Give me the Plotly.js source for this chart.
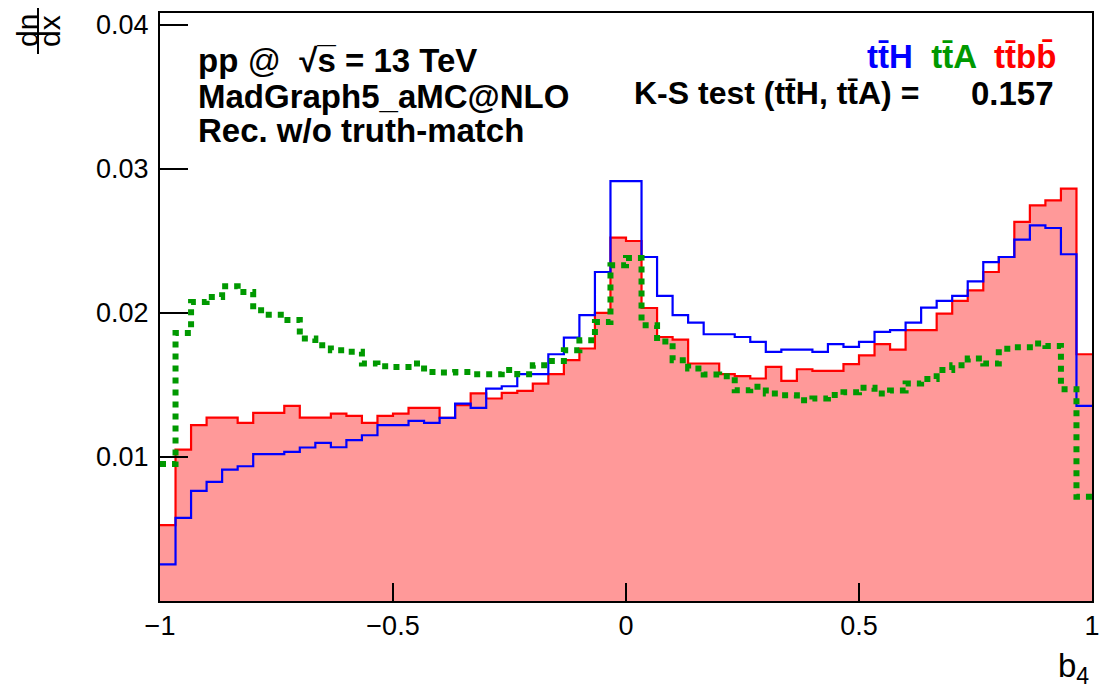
<!DOCTYPE html>
<html>
<head>
<meta charset="utf-8">
<script src="https://cdn.plot.ly/plotly-3.0.1.min.js"></script>
<style>
  html, body { margin: 0; padding: 0; background: #ffffff; }
  #plot { width: 1107px; height: 693px; }
</style>
</head>
<body>
<div id="plot"></div>
<script>
// b4 distribution: 60 bins on [-1, 1], unit-normalised densities
const xMin = -1;
const xMax = 1;
const nBins = 60;

// ttH (blue outline)
const ttH = [
  0.00254, 0.00577, 0.00764, 0.00827, 0.00912, 0.00935, 0.01019, 0.01019, 0.01035, 0.01065,
  0.01097, 0.01067, 0.01116, 0.01150, 0.01220, 0.01220, 0.01250, 0.01236, 0.01270, 0.01370,
  0.01340, 0.01474, 0.01490, 0.01574, 0.01574, 0.01712, 0.01828, 0.01983, 0.02283, 0.02914,
  0.02914, 0.02387, 0.02117, 0.01983, 0.01932, 0.01851, 0.01851, 0.01832, 0.01798, 0.01728,
  0.01744, 0.01744, 0.01728, 0.01782, 0.01763, 0.01798, 0.01867, 0.01879, 0.01932, 0.02036,
  0.02082, 0.02117, 0.02218, 0.02352, 0.02387, 0.02508, 0.02607, 0.02588, 0.02406, 0.01354
];

// ttA (green dotted)
const ttA = [
  0.00950, 0.01860, 0.02075, 0.02110, 0.02184, 0.02144, 0.02017, 0.01987, 0.01950, 0.01821,
  0.01775, 0.01740, 0.01730, 0.01648, 0.01629, 0.01624, 0.01648, 0.01589, 0.01585, 0.01589,
  0.01574, 0.01574, 0.01602, 0.01574, 0.01636, 0.01666, 0.01740, 0.01809, 0.01936, 0.02330,
  0.02380, 0.01913, 0.01800, 0.01671, 0.01613, 0.01572, 0.01560, 0.01463, 0.01486, 0.01440,
  0.01428, 0.01393, 0.01405, 0.01430, 0.01448, 0.01480, 0.01440, 0.01460, 0.01509, 0.01540,
  0.01602, 0.01636, 0.01682, 0.01648, 0.01750, 0.01760, 0.01786, 0.01770, 0.01470, 0.00723
];

// ttbb (red, filled)
const ttbb = [
  0.00526, 0.01051, 0.01220, 0.01273, 0.01273, 0.01236, 0.01305, 0.01305, 0.01354, 0.01273,
  0.01273, 0.01300, 0.01284, 0.01236, 0.01284, 0.01300, 0.01340, 0.01340, 0.01270, 0.01359,
  0.01440, 0.01405, 0.01444, 0.01458, 0.01509, 0.01574, 0.01671, 0.01752, 0.01999, 0.02521,
  0.02498, 0.02033, 0.01832, 0.01814, 0.01648, 0.01648, 0.01574, 0.01560, 0.01544, 0.01624,
  0.01527, 0.01608, 0.01597, 0.01597, 0.01643, 0.01705, 0.01782, 0.01744, 0.01879, 0.01879,
  0.01994, 0.02082, 0.02156, 0.02283, 0.02387, 0.02630, 0.02745, 0.02780, 0.02861, 0.01712
];

const xTickVals = [-1, -0.5, 0, 0.5, 1];
const xTickLabels = ['\u22121', '\u22120.5', '0', '0.5', '1'];
const yTickVals = [0.01, 0.02, 0.03, 0.04];
const yTickLabels = ['0.01', '0.02', '0.03', '0.04'];
const ksValue = '0.157';

// bin edges and step outlines ('hv' draws each bin as a flat top)
const edges = [];
for (let i = 0; i <= nBins; i++) edges.push(xMin + (xMax - xMin) * i / nBins);
const stepY = v => v.concat([v[v.length - 1]]);

const FONT = 'Liberation Sans, Arial, Helvetica, sans-serif';
const GREEN = '#009900';

const traces = [
  {
    x: edges, y: stepY(ttbb), type: 'scatter', mode: 'lines',
    line: { shape: 'hv', color: '#ff0000', width: 2.2 },
    fill: 'tozeroy', fillcolor: 'rgba(255,0,0,0.4)',
    hoverinfo: 'skip'
  },
  {
    x: edges, y: stepY(ttH), type: 'scatter', mode: 'lines',
    line: { shape: 'hv', color: '#0000ff', width: 2.2 },
    hoverinfo: 'skip'
  },
  {
    x: edges, y: stepY(ttA), type: 'scatter', mode: 'lines',
    line: { shape: 'hv', color: GREEN, width: 6, dash: '6px,6px' },
    hoverinfo: 'skip'
  }
];

// plot frame in pixels, used to place the text blocks
const W = 1107, H = 693;
const L = 160, R = 1092, T = 13, B = 601;
const px = x => (x - L) / (R - L);
const py = y => (B - y) / (B - T);

// barred letters via combining marks
const bar = s => s + '\u0304';
const ttH_txt = 't' + bar('t') + 'H';
const ttA_txt = 't' + bar('t') + 'A';
const ttbb_txt = 't' + bar('t') + 'b' + bar('b');

const ann = (text, x, y, xanchor, extra) => Object.assign({
  text: text, xref: 'paper', yref: 'paper', x: px(x), y: py(y),
  xanchor: xanchor, yanchor: 'middle', showarrow: false,
  font: { family: FONT, size: 33, color: '#000000', weight: 'bold' }
}, extra || {});

const annotations = [
  ann("pp <span style='font-weight:normal'>@</span>  \u221As\u0305 = 13 TeV", 196, 60, 'left'),
  ann('MadGraph5_aMC@NLO', 196, 96, 'left'),
  ann('Rec. w/o truth-match', 196, 130, 'left'),
  ann("<span style='color:#0000ff'>" + ttH_txt + "</span>  <span style='color:" + GREEN + "'>" + ttA_txt +
      "</span>  <span style='color:#ff0000'>" + ttbb_txt + '</span>', 1058, 57, 'right'),
  ann('K-S test (' + ttH_txt + ', ' + ttA_txt + ') =', 632, 93, 'left', { font: { family: FONT, size: 32, color: '#000000', weight: 'bold' } }),
  ann(ksValue, 1056, 93, 'right'),
  // x-axis title
  ann('b<sub>4</sub>', 1091, 668, 'right', { font: { family: FONT, size: 33, color: '#000000' } }),
  // y-axis title: dn/dx as a rotated fraction
  ann('dn', 27, 31, 'center', { textangle: -90, font: { family: FONT, size: 30, color: '#000000' } }),
  ann('dx', 49, 31, 'center', { textangle: -90, font: { family: FONT, size: 30, color: '#000000' } })
];

const shapes = [
  { type: 'line', xref: 'paper', yref: 'paper', x0: px(38), x1: px(38), y0: py(8), y1: py(54),
    line: { color: '#000000', width: 2 } }
];

const axisCommon = {
  ticks: 'inside', tickwidth: 2, tickcolor: '#000000',
  showline: true, mirror: true, linewidth: 2, linecolor: '#000000',
  showgrid: false, zeroline: false, fixedrange: true,
  tickfont: { family: FONT, size: 27, color: '#000000' }
};

const layout = {
  width: W, height: H,
  margin: { l: L, r: W - R, t: T, b: H - B, pad: 0 },
  paper_bgcolor: '#ffffff', plot_bgcolor: '#ffffff',
  showlegend: false,
  font: { family: FONT, size: 27, color: '#000000' },
  xaxis: Object.assign({}, axisCommon, {
    range: [xMin, xMax], tickmode: 'array', tickvals: xTickVals, ticktext: xTickLabels,
    ticklen: 18
  }),
  yaxis: Object.assign({}, axisCommon, {
    range: [0, 0.0408], tickmode: 'array', tickvals: yTickVals, ticktext: yTickLabels,
    ticklen: 28, ticklabelstandoff: 4
  }),
  annotations: annotations,
  shapes: shapes
};

Plotly.newPlot('plot', traces, layout, { staticPlot: true, displayModeBar: false });
</script>
</body>
</html>
